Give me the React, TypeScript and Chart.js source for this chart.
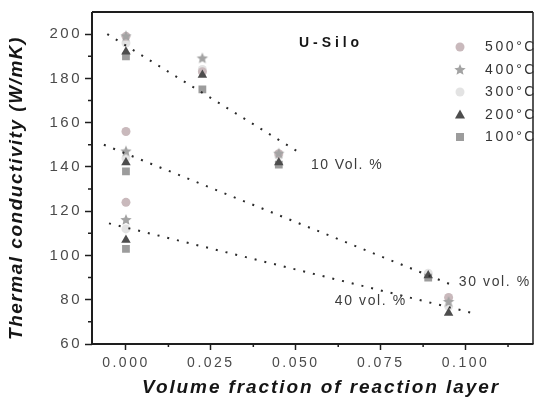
import React, { useEffect, useRef } from 'react';
import { Chart, registerables } from 'chart.js';
Chart.register(...registerables);

// ---- data ----
const seriesNames = ['500°C', '400°C', '300°C', '200°C', '100°C'];
const x500 = [0, 0, 0, 0.0225, 0.045, 0.095];
const y500 = [199, 156, 124, 183, 146, 81];
const x400 = [0, 0, 0, 0.0225, 0.045, 0.095];
const y400 = [199, 147, 116, 189, 146, 79];
const x300 = [0, 0, 0, 0.0225, 0.045, 0.089, 0.095];
const y300 = [196, 144, 112, 184, 145, 92, 77];
const x200 = [0, 0, 0, 0.0225, 0.045, 0.089, 0.095];
const y200 = [192, 142, 107, 181.5, 142, 91, 74];
const x100 = [0, 0, 0, 0.0225, 0.045, 0.089];
const y100 = [190, 138, 103, 175, 141, 90];

const fitX10 = [-0.0055, 0.0505];
const fitY10 = [200, 147];
const fitX30 = [-0.0065, 0.0955];
const fitY30 = [150, 87];
const fitX40 = [-0.005, 0.102];
const fitY40 = [114.5, 74];

const fitLabels = ['10 Vol. %', '30 vol. %', '40 vol. %'];
const fitLabelX = [0.0545, 0.098, 0.0615];
const fitLabelY = [141, 88, 79.2];

const xTicks = [0, 0.025, 0.05, 0.075, 0.1];
const xMinor = [0.0125, 0.0375, 0.0625, 0.0875, 0.1125];
const yTicks = [60, 80, 100, 120, 140, 160, 180, 200];
const yMinor = [70, 90, 110, 130, 150, 170, 190];

const titleText = 'U-Silo';
const xTitle = 'Volume fraction of reaction layer';
const yTitle = 'Thermal conductivity (W/mK)';

const colors = ['#c9b9bc', '#a3a3a3', '#e3e3e3', '#4d4d4d', '#9c9c9c'];

function pts(xs: number[], ys: number[]) {
  return xs.map((x, i) => ({ x, y: ys[i] }));
}

function makeStar(color: string, r: number) {
  const c = document.createElement('canvas');
  const s = Math.ceil(r * 2 + 2);
  c.width = s;
  c.height = s;
  const g = c.getContext('2d')!;
  drawStar(g, s / 2, s / 2, r, color);
  return c;
}

function drawStar(g: CanvasRenderingContext2D, cx: number, cy: number, r: number, color: string) {
  g.beginPath();
  for (let i = 0; i < 10; i++) {
    const rr = i % 2 === 0 ? r : r * 0.45;
    const a = -Math.PI / 2 + (i * Math.PI) / 5;
    const px = cx + rr * Math.cos(a);
    const py = cy + rr * Math.sin(a);
    if (i === 0) g.moveTo(px, py);
    else g.lineTo(px, py);
  }
  g.closePath();
  g.fillStyle = color;
  g.fill();
}

function drawMarker(g: CanvasRenderingContext2D, kind: string, x: number, y: number, color: string) {
  g.fillStyle = color;
  if (kind === 'circle') {
    g.beginPath();
    g.arc(x, y, 4.5, 0, Math.PI * 2);
    g.fill();
  } else if (kind === 'star') {
    drawStar(g, x, y, 6, color);
  } else if (kind === 'triangle') {
    g.beginPath();
    g.moveTo(x, y - 5.5);
    g.lineTo(x + 5, y + 3.5);
    g.lineTo(x - 5, y + 3.5);
    g.closePath();
    g.fill();
  } else {
    g.fillRect(x - 4, y - 4, 8, 8);
  }
}

function textFit(g: CanvasRenderingContext2D, t: string, target: number) {
  (g as any).letterSpacing = '0px';
  const w = g.measureText(t).width;
  const sp = Math.max(0, (target - w) / t.length);
  (g as any).letterSpacing = sp.toFixed(2) + 'px';
}

const kinds = ['circle', 'star', 'circle', 'triangle', 'rect'];

export default function App() {
  const ref = useRef<HTMLCanvasElement | null>(null);
  useEffect(() => {
    document.body.style.margin = '0';
    const canvas = ref.current!;
    const star = makeStar(colors[1], 6);

    const deco = {
      id: 'deco',
      beforeDraw(chart: any) {
        (chart.ctx as any).letterSpacing = '2.5px';
      },
      afterDraw(chart: any) {
        const g: CanvasRenderingContext2D = chart.ctx;
        const a = chart.chartArea;
        const xs = chart.scales.x;
        const ys = chart.scales.y;
        g.save();
        (g as any).letterSpacing = '0px';
        // frame
        g.strokeStyle = '#1e1e1e';
        g.lineWidth = 2;
        g.beginPath();
        g.moveTo(a.left, a.top);
        g.lineTo(a.right - 0.5, a.top);
        g.stroke();
        g.beginPath();
        g.moveTo(a.left, a.top);
        g.lineTo(a.left, a.bottom);
        g.lineTo(a.right, a.bottom);
        g.stroke();
        g.lineWidth = 1.5;
        g.beginPath();
        g.moveTo(a.right - 0.5, a.top);
        g.lineTo(a.right - 0.5, a.bottom);
        g.stroke();
        // minor ticks
        g.lineWidth = 1.5;
        g.beginPath();
        xMinor.forEach((v) => {
          const px = xs.getPixelForValue(v);
          g.moveTo(px, a.bottom);
          g.lineTo(px, a.bottom + 3);
        });
        yMinor.forEach((v) => {
          const py = ys.getPixelForValue(v);
          g.moveTo(a.left, py);
          g.lineTo(a.left - 4, py);
        });
        g.stroke();

        // axis titles
        g.fillStyle = '#151515';
        g.font = 'italic bold 19px "Liberation Sans", Arial, sans-serif';
        g.textAlign = 'left';
        g.textBaseline = 'middle';
        textFit(g, xTitle, 358);
        g.fillText(xTitle, 142, 388);
        g.save();
        g.translate(17, 340);
        g.rotate(-Math.PI / 2);
        textFit(g, yTitle, 304);
        g.fillText(yTitle, 0, 0);
        g.restore();

        // panel title
        g.font = 'bold 14px "Liberation Sans", Arial, sans-serif';
        textFit(g, titleText, 64);
        g.fillText(titleText, 299, 43);

        // legend
        const ly = [47, 70, 92, 115, 137];
        g.font = '14px "Liberation Sans", Arial, sans-serif';
        seriesNames.forEach((n, i) => {
          drawMarker(g, kinds[i], 460, ly[i], colors[i]);
          g.fillStyle = '#333333';
          textFit(g, n, 52);
          g.fillText(n, 485, ly[i]);
        });

        // fit labels
        g.font = '14px "Liberation Sans", Arial, sans-serif';
        g.fillStyle = '#3c3c3c';
        fitLabels.forEach((t, i) => {
          textFit(g, t, 72);
          g.fillText(t, xs.getPixelForValue(fitLabelX[i]), ys.getPixelForValue(fitLabelY[i]));
        });
        g.restore();
      },
    };

    const fitDs = (xs: number[], ys: number[]) => ({
      type: 'line' as const,
      data: pts(xs, ys),
      borderColor: '#2a2a2a',
      borderWidth: 2,
      borderDash: [2, 8],
      pointRadius: 0,
      fill: false,
      order: 0,
    });

    const sc = (i: number, xs: number[], ys: number[], extra: any) => ({
      type: 'scatter' as const,
      label: seriesNames[i],
      data: pts(xs, ys),
      backgroundColor: colors[i],
      borderColor: colors[i],
      borderWidth: 0,
      pointRadius: 4.5,
      ...extra,
    });

    const chart = new Chart(canvas, {
      type: 'scatter',
      data: {
        datasets: [
          fitDs(fitX10, fitY10),
          fitDs(fitX30, fitY30),
          fitDs(fitX40, fitY40),
          sc(3, x200, y200, { pointStyle: 'triangle', pointRadius: 5.5, order: 1 }),
          sc(4, x100, y100, { pointStyle: 'rect', pointRadius: 5.5, order: 2 }),
          sc(1, x400, y400, { pointStyle: star, order: 3 }),
          sc(0, x500, y500, { pointStyle: 'circle', order: 4 }),
          sc(2, x300, y300, { pointStyle: 'circle', order: 5 }),
        ] as any,
      },
      options: {
        responsive: false,
        animation: false,
        layout: { padding: { top: 7, right: 1, left: 0, bottom: 0 } },
        plugins: { legend: { display: false }, tooltip: { enabled: false } },
        scales: {
          x: {
            type: 'linear',
            min: -0.01,
            max: 0.12,
            afterFit: (s: any) => {
              s.height = 63;
            },
            afterBuildTicks: (s: any) => {
              s.ticks = xTicks.map((v) => ({ value: v }));
            },
            ticks: {
              callback: (v: any) => Number(v).toFixed(3),
              color: '#4a4a4a',
              font: { family: '"Liberation Sans", Arial, sans-serif', size: 14 },
              padding: 5,
              maxRotation: 0,
            },
            grid: {
              display: true,
              drawOnChartArea: false,
              drawTicks: true,
              tickLength: 6,
              tickColor: '#1e1e1e',
              tickWidth: 1.5,
            },
            border: { display: false },
          },
          y: {
            type: 'linear',
            min: 60,
            max: 210,
            afterFit: (s: any) => {
              s.width = 92;
            },
            afterBuildTicks: (s: any) => {
              s.ticks = yTicks.map((v) => ({ value: v }));
            },
            ticks: {
              color: '#4a4a4a',
              font: { family: '"Liberation Sans", Arial, sans-serif', size: 15 },
              padding: 3,
            },
            grid: {
              display: true,
              drawOnChartArea: false,
              drawTicks: true,
              tickLength: 7,
              tickColor: '#1e1e1e',
              tickWidth: 1.5,
            },
            border: { display: false },
          },
        },
      },
      plugins: [deco],
    });
    return () => chart.destroy();
  }, []);
  return <canvas ref={ref} width={539} height={407} style={{ display: 'block', width: 539, height: 407 }} />;
}
